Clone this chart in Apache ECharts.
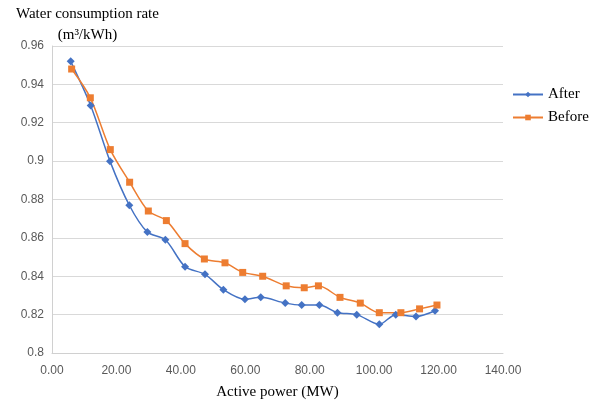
<!DOCTYPE html>
<html>
<head>
<meta charset="utf-8">
<script src="https://cdn.jsdelivr.net/npm/echarts@6/dist/echarts.min.js"></script>
<style>html,body{margin:0;padding:0;background:#fff;}#c{width:592px;height:405px;}</style>
</head>
<body>
<div id="c"></div>
<script>
var afterPower = [5.8, 12.0, 18.0, 24.0, 29.6, 35.2, 41.3, 47.5, 53.2, 59.9, 64.8, 72.4, 77.5, 83.0, 88.6, 94.6, 101.6, 106.7, 113.0, 118.9];
var afterRate  = [0.952, 0.929, 0.900, 0.877, 0.863, 0.859, 0.845, 0.841, 0.833, 0.828, 0.829, 0.826, 0.825, 0.825, 0.821, 0.820, 0.815, 0.820, 0.819, 0.822];
var beforePower = [6.1, 11.9, 18.1, 24.1, 29.9, 35.5, 41.3, 47.3, 53.7, 59.2, 65.4, 72.7, 78.3, 82.7, 89.4, 95.7, 101.6, 108.3, 114.1, 119.5];
var beforeRate  = [0.948, 0.933, 0.906, 0.889, 0.874, 0.869, 0.857, 0.849, 0.847, 0.842, 0.840, 0.835, 0.834, 0.835, 0.829, 0.826, 0.821, 0.821, 0.823, 0.825];
var seriesNames = ['After', 'Before'];
var yTitle = 'Water consumption rate\n(m\u00b3/kWh)';
var xTitle = 'Active power (MW)';

function pairs(xs, ys) { return xs.map(function (x, i) { return [x, ys[i]]; }); }

var chart = echarts.init(document.getElementById('c'), null, {renderer: 'canvas'});
var serif = '"Liberation Serif", "DejaVu Serif", serif';
var sans = '"Liberation Sans", Arial, sans-serif';
chart.setOption({
  animation: false,
  backgroundColor: '#fff',
  grid: {left: 52, right: 89, top: 46, bottom: 51, containLabel: false},
  legend: {
    orient: 'vertical', left: 507, top: 82, itemGap: 8,
    itemWidth: 30, itemHeight: 7,
    textStyle: {fontFamily: serif, fontSize: 15, color: '#000'},
    data: seriesNames
  },
  graphic: [{
    type: 'text', left: 16, top: 4,
    style: {text: yTitle, fontFamily: serif, fontSize: 15, fill: '#000', align: 'center', lineHeight: 21, textAlign: 'center'}
  }],
  xAxis: {
    type: 'value', min: 0, max: 140, interval: 20,
    name: xTitle, nameLocation: 'middle', nameGap: 32,
    nameTextStyle: {fontFamily: serif, fontSize: 15, color: '#000'},
    axisLine: {show: true, lineStyle: {color: '#d0d0d0', width: 1}},
    axisTick: {show: false},
    splitLine: {show: false},
    axisLabel: {fontFamily: sans, fontSize: 12, color: '#595959', margin: 12, formatter: function (v) { return v.toFixed(2); }}
  },
  yAxis: {
    type: 'value', min: 0.8, max: 0.96, interval: 0.02,
    axisLine: {show: true, lineStyle: {color: '#d0d0d0', width: 1}},
    axisTick: {show: false},
    splitLine: {show: true, lineStyle: {color: '#d9d9d9', width: 1}},
    axisLabel: {fontFamily: sans, fontSize: 12, color: '#595959', margin: 8,
      formatter: function (v) { return String(parseFloat(v.toFixed(2))); }}
  },
  series: [
    {
      name: seriesNames[0], type: 'line', smooth: 0.3,
      data: pairs(afterPower, afterRate),
      symbol: 'diamond', symbolSize: 8,
      itemStyle: {color: '#4472C4'},
      lineStyle: {color: '#4472C4', width: 1.5}
    },
    {
      name: seriesNames[1], type: 'line', smooth: 0.3,
      data: pairs(beforePower, beforeRate),
      symbol: 'rect', symbolSize: 7,
      itemStyle: {color: '#ED7D31'},
      lineStyle: {color: '#ED7D31', width: 1.5}
    }
  ]
});
</script>
</body>
</html>
